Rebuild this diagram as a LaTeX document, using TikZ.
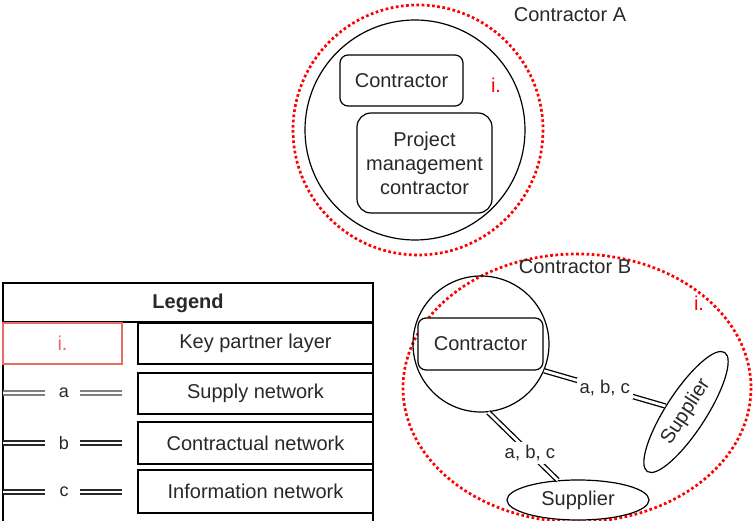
\documentclass[tikz,border=0pt]{standalone}
\usepackage{fontspec}
\setmainfont{Liberation Sans}
\usetikzlibrary{shapes.geometric}

\definecolor{layerred}{RGB}{255,0,0}
\definecolor{legendred}{RGB}{234,107,102}
\definecolor{inkgray}{RGB}{40,40,40}

\tikzset{
    layer/.style={draw=layerred, line width=2.7pt, dash pattern=on 2.7pt off 2.5pt},
    ring/.style={draw, circle, line width=1.2pt, inner sep=0pt},
    partybox/.style={draw, fill=white, rounded corners=8pt, line width=1.2pt, align=center},
    supplier/.style={draw, fill=white, ellipse, line width=1.2pt, minimum width=142pt, minimum height=40pt, inner sep=0pt},
    netlink/.style={double, double distance=2.8pt, line width=1.3pt},
    lbl/.style={font=\fontsize{18.5}{22}\selectfont, fill=white, inner sep=3pt},
    legbox/.style={draw, line width=1.2pt, minimum width=235pt, inner sep=0pt},
}

\begin{document}
\begin{tikzpicture}[x=1pt, y=-1pt, text=inkgray, font=\fontsize{20}{24}\selectfont]
    \useasboundingbox (0,0) rectangle (753,521);
    \clip (0,0) rectangle (753,521);

    % Contractor A
    \draw[layer] (418,130) circle [radius=125];
    \node[ring, minimum size=220pt] (cA) at (415,130) {};
    \node[partybox, minimum width=123pt, minimum height=51pt] (conA) at (401.5,80.5) {Contractor};
    \node[partybox, rounded corners=14pt, minimum width=135pt, minimum height=100pt] (pmc) at (424.5,163) {Project\\management\\contractor};
    \node[text=layerred] (layA) at (496,85) {i.};
    \node (nameA) at (570,15) {Contractor A};

    % Contractor B
    \draw[layer] (577,388) ellipse [x radius=174, y radius=134];
    \node (nameB) at (575,267) {Contractor B};
    \node[text=layerred] (layB) at (699,303) {i.};
    \node[ring, minimum size=136pt] (cB) at (481,344) {};
    \node[partybox, minimum width=125pt, minimum height=52pt] (conB) at (480.5,344) {Contractor};
    \node[supplier] (supB) at (578,500) {Supplier};
    \node[supplier, rotate=57] (supR) at (686,412) {Supplier};
    \draw[netlink] (cB.-23) -- node[lbl, pos=0.5] {a, b, c} (supR);
    \draw[netlink] (cB.-84) -- node[lbl, pos=0.6] {a, b, c} (supB);

    % Legend
    \draw[line width=1.2pt] (3,283) rectangle (373,530);
    \draw[line width=1.2pt] (3,322) -- (373,322);
    \node[font=\fontsize{20}{24}\selectfont\bfseries] (legend) at (188,303) {Legend};
    \node[draw=legendred, line width=1.2pt, minimum width=119pt, minimum height=41pt, text=legendred] (keyI) at (62.5,343.5) {i.};
    \node[legbox, minimum height=41pt] (keyL) at (255.5,343.5) {Key partner layer};
    \node[legbox, minimum height=41pt] (keyS) at (255.5,393.5) {Supply network};
    \node[legbox, minimum height=42pt] (keyC) at (255.5,443) {Contractual network};
    \node[legbox, minimum height=43pt] (keyN) at (255.5,491.5) {Information network};
    \foreach \y/\t/\c in {393/a/gray, 443/b/inkgray, 492/c/inkgray} {
        \node[font=\fontsize{18}{22}\selectfont] (leg\t) at (64,\y) {\t};
        \draw[netlink, draw=\c] (3,\y) -- (45,\y);
        \draw[netlink, draw=\c] (80,\y) -- (122,\y);
    }
\end{tikzpicture}
\end{document}
